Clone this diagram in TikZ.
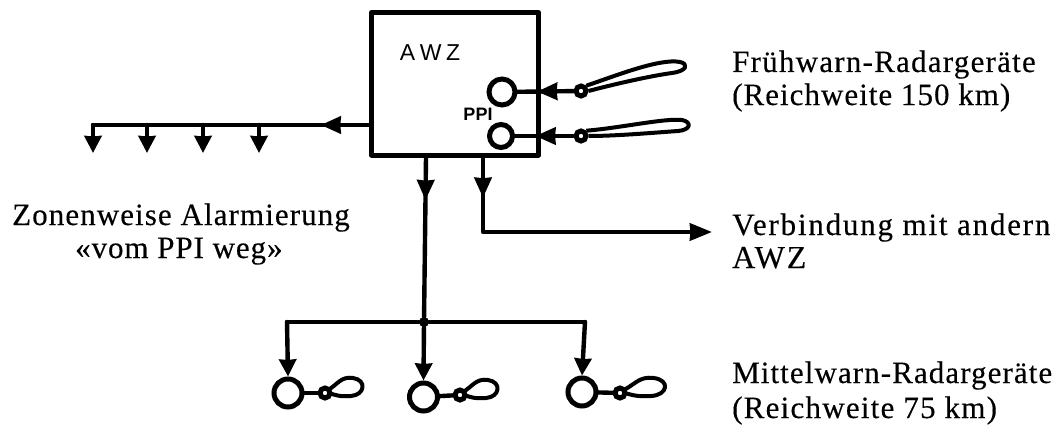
\documentclass[tikz,border=0pt]{standalone}
\usepackage{fontspec}
\setmainfont{Liberation Serif}
\setsansfont{Liberation Sans}
\usetikzlibrary{arrows.meta,decorations.markings}
\newcommand{\labfont}[2]{\fontsize{#1}{#1}\selectfont\addfontfeature{LetterSpace=#2,FakeBold=0.25}}
\tikzset{
  conn/.style={line width=4.4pt,line join=round,line cap=round},
  endarrow/.style={conn,-{Stealth[length=17pt,width=17pt,inset=0.5pt]}},
  midarrow/.style={conn,postaction={decorate},decoration={markings,mark=at position #1 with {\arrow{Stealth[length=20pt,width=17pt,inset=0.5pt]}}}},
  dish/.style={circle,draw,line width=5pt,fill=white,inner sep=0pt,minimum size=#1},
  ring/.style={circle,draw,line width=5pt,fill=white,inner sep=0pt,minimum size=10pt},
  lobe/.style={line width=4pt,line join=round},
  lab/.style={anchor=base west,inner sep=0pt},
  blk/.style={draw,line width=5pt,inner sep=0pt,line join=round},
  hub/.style={circle,fill=black,inner sep=0pt,minimum size=10pt},
}
\begin{document}
\begin{tikzpicture}[x=1pt,y=-1pt]
\useasboundingbox (0,0) rectangle (1055,428);
% main box
\node[blk,minimum width=167pt,minimum height=142.5pt] (awz) at (455,83.75) {};
\node[font=\sffamily\fontsize{23}{25}\selectfont,inner sep=0pt] (awzt) at (430,52.5) {A\kern4.5pt W\kern4.5pt Z};
% long-range radars
\node[dish=26pt] (d1) at (502,92) {};
\node[dish=23pt] (d2) at (501,136) {};
\node[font=\sffamily\bfseries\fontsize{18}{20}\selectfont,inner sep=0pt] (ppi) at (478,114) {PPI};
\node[ring] (r1) at (581,91) {};
\node[ring] (r2) at (581,136) {};
\draw[midarrow=0.65] (r1) -- (d1);
\draw[midarrow=0.65] (r2) -- (d2);
\draw[lobe] (r1.north east) .. controls (615,76) and (660,58) .. (680,62)
  .. controls (689,64) and (687,71) .. (672,73) .. controls (650,76) and (615,84) .. (r1.east);
\draw[lobe] (r2.north east) .. controls (620,128) and (665,118) .. (682,120)
  .. controls (692,122) and (691,130) .. (678,131) .. controls (650,133) and (615,136) .. (r2.east);
% left alarm line
\coordinate (lc) at (93,125);
\coordinate (a1) at (93,153);
\coordinate (b2) at (147,125);
\coordinate (a2) at (147,153);
\coordinate (b3) at (203,125);
\coordinate (a3) at (203,153);
\coordinate (b4) at (259,125);
\coordinate (a4) at (259,153);
\draw[midarrow=0.175] (awz.west |- lc) -- (lc);
\draw[endarrow] (lc) -- (a1);
\draw[endarrow] (b2) -- (a2);
\draw[endarrow] (b3) -- (a3);
\draw[endarrow] (b4) -- (a4);
% lower trunk
\coordinate (t1) at (426,157);
\node[hub] (hb) at (424,322) {};
\draw[midarrow=0.27] (t1) -- (hb);
% link to other AWZ
\coordinate (t2) at (483,157);
\coordinate (t2c) at (483,232);
\coordinate (t2e) at (712,232);
\draw[midarrow=0.134,-{Stealth[length=22pt,width=17pt,inset=0.5pt]}] (t2) -- (t2c) -- (t2e);
% medium-range radars
\node[dish=28pt] (m1) at (288,393) {};
\node[dish=28pt] (m2) at (423.5,397) {};
\node[dish=28pt] (m3) at (582,392) {};
\coordinate (c1) at (287,322);
\coordinate (c3) at (585,322);
\draw[conn] (c1) -- (hb) -- (c3);
\draw[endarrow] (c1) -- (m1.north);
\draw[endarrow] (hb) -- (m2.north);
\draw[endarrow] (c3) -- (m3.north);
\node[ring] (s1) at (325,393) {};
\node[ring] (s2) at (460,395) {};
\node[ring] (s3) at (620,393) {};
\draw[conn] (m1) -- (s1);
\draw[conn] (m2) -- (s2);
\draw[conn] (m3) -- (s3);
\foreach \s/\k in {s1/1,s2/1,s3/1.2}{
  \draw[lobe,shift={(\s)},xscale=\k] (3,-3) .. controls (12,-8) and (16,-17) .. (28,-15)
    .. controls (42,-13) and (40,2) .. (26,3) .. controls (15,4) and (10,2) .. (4,0);
}
% labels
\node[lab,font=\labfont{31}{4}] (l1) at (732,72) {Frühwarn-Radargeräte};
\node[lab,font=\labfont{31}{3.3}] (l2) at (732,105) {(Reichweite 150 km)};
\node[lab,font=\labfont{31}{5.8}] (l3) at (732,235) {Verbindung mit andern};
\node[lab,font=\labfont{32}{6}] (l4) at (732,268) {AWZ};
\node[lab,font=\labfont{31}{3.5}] (l5) at (732,383) {Mittelwarn-Radargeräte};
\node[lab,font=\labfont{31}{4}] (l6) at (732,418) {(Reichweite 75 km)};
\node[lab,font=\labfont{31}{3.5}] (l7) at (12,225) {Zonenweise Alarmierung};
\node[lab,font=\labfont{31}{3}] (l8) at (75,258) {«vom PPI weg»};
\end{tikzpicture}
\end{document}
